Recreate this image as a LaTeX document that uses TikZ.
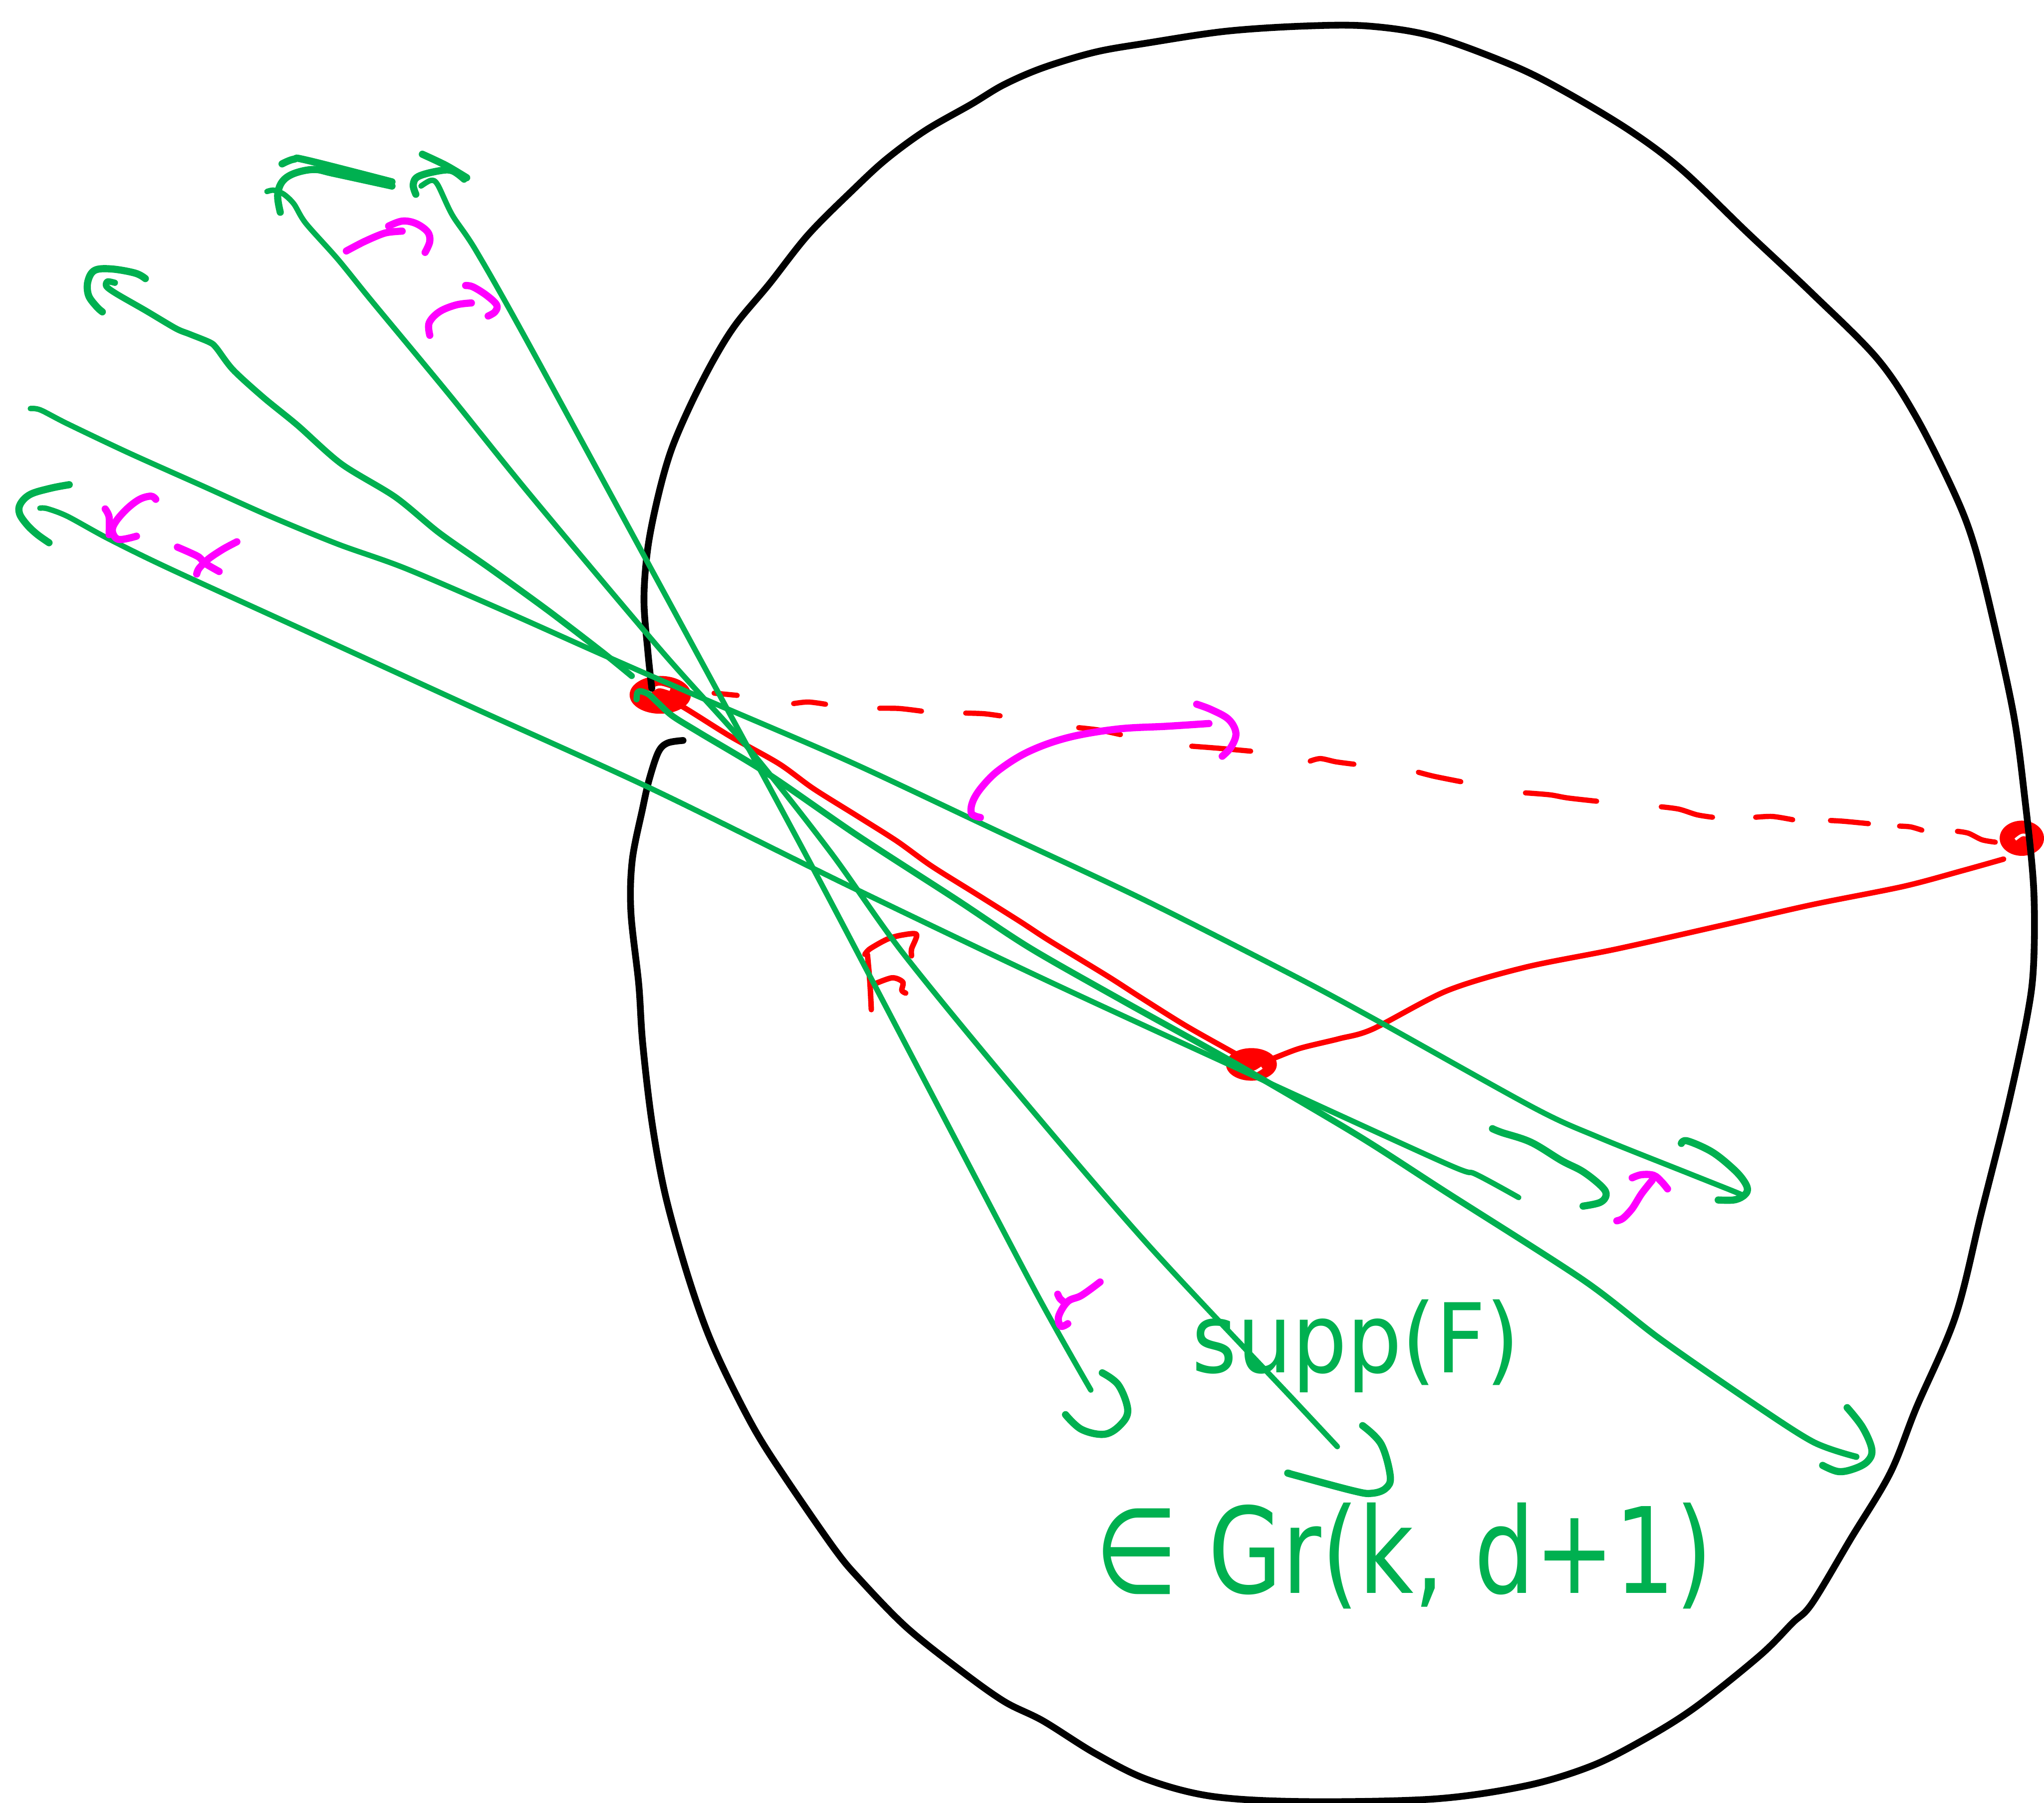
\documentclass[tikz,border=0pt]{standalone}
\usepackage{fontspec}
\newfontfamily\handfont{DejaVu Sans}
\definecolor{gr}{HTML}{00B050}
\definecolor{rd}{HTML}{FF0000}
\definecolor{mg}{HTML}{FF00FF}
\tikzset{
  outline/.style={draw=black, line width=0.52mm, line cap=round, line join=round},
  gline/.style={draw=gr, line width=0.42mm, line cap=round, line join=round},
  gthick/.style={draw=gr, line width=0.48mm, line cap=round, line join=round},
  ghook/.style={draw=gr, line width=0.55mm, line cap=round, line join=round},
  rline/.style={draw=rd, line width=0.42mm, line cap=round, line join=round},
  rdash/.style={draw=rd, line width=0.4mm, line cap=round},
  rdot/.style={fill=rd, draw=rd, line width=0.3mm},
  mline/.style={draw=mg, line width=0.55mm, line cap=round, line join=round},
  txt/.style={text=gr, inner sep=0pt, font=\handfont}
}
\begin{document}
\begin{tikzpicture}[x=0.1mm, y=-0.1mm]
\useasboundingbox (0,0) rectangle (1568,1383);

% ---------- red ----------
\fill[rdot] (506.5,533) ellipse (22 and 13);
\fill[rdot] (960,816.5) ellipse (18 and 11);
\fill[rdot] (1551,643) ellipse (15.5 and 12);
\draw[white, line width=0.2mm] (498,531) .. controls (505,526) .. (514,529);
\draw[white, line width=0.2mm] (955,821) .. controls (962,823) .. (968,819);
\draw[white, line width=0.2mm] (1546,644) .. controls (1551,640) .. (1556,641);

\draw[rline] plot[smooth, tension=0.5] coordinates {(505,534)(522.1,541.2)(559.8,564.6)(597.5,585.8)(623.9,604.9)(657.8,626.1)(688,645.2)(714.4,664.2)(748.3,685.4)(782.2,706.7)(804.9,721.5)(850.1,749.1)(876.5,766.1)(910.4,787.3)(948.1,808.5)(960,815)};
\draw[rline] plot[smooth, tension=0.5] coordinates {(966,814)(974.5,812.7)(997.1,804.2)(1027.3,796.8)(1053,789.4)(1110,760)(1170,742)(1240,728)(1320,710)(1390,694)(1460,680)(1505,668)(1537,659)};

% dashed chord
\draw[rdash] (547.8,531.7) -- (565.5,533.4);
\draw[rdash] plot[smooth] coordinates {(608.8,539.7)(620,538.5)(633.3,540.2)};
\draw[rdash] plot[smooth] coordinates {(674.8,543.3)(690,543.5)(706.9,545.5)};
\draw[rdash] plot[smooth] coordinates {(740.8,547)(755,547.5)(767.2,549.1)};
\draw[rdash] plot[smooth] coordinates {(827.5,558.2)(843,560)(859.5,563.5)};
\draw[rdash] plot[smooth] coordinates {(914.2,572.4)(935,574)(959.4,576.2)};
\draw[rdash] plot[smooth] coordinates {(1005.1,583.8)(1013,581.9)(1024.9,584.4)(1038.6,586.2)};
\draw[rdash] plot[smooth] coordinates {(1088.1,592.4)(1100.1,595.5)(1120.6,599.6)};
\draw[rdash] plot[smooth] coordinates {(1170.2,608.2)(1189,609.7)(1202.6,612.1)(1224.8,614.6)};
\draw[rdash] plot[smooth] coordinates {(1274.4,618.9)(1288,620.7)(1301.7,625)(1313.7,626.9)};
\draw[rdash] plot[smooth] coordinates {(1346.8,626.9)(1359.8,626.3)(1375.2,628.8)};
\draw[rdash] plot[smooth] coordinates {(1404.2,629.4)(1414.5,630)(1433.3,631.8)};
\draw[rdash] plot[smooth] coordinates {(1457.2,633.7)(1465.7,634.3)(1474.3,636.8)};
\draw[rdash] plot[smooth] coordinates {(1501.6,637.7)(1510.1,639.2)(1520.4,644.2)(1530.6,646)};

% red F
\draw[rline] plot[smooth] coordinates {(668.4,774.5)(667.3,753.3)(665.4,732.1)};
\draw[rline] plot[smooth, tension=0.5] coordinates {(663.5,732.1)(667.3,727.9)(680.5,720.5)(691.8,717.3)(703.1,716.8)(699.3,727.9)(699.3,733.2)};
\draw[rline] plot[smooth, tension=0.5] coordinates {(669.2,755.5)(684.2,750.1)(692.5,753.3)(691.8,759.7)(694.8,761.8)};

% ---------- black outline ----------
\draw[outline] plot[smooth, tension=0.55] coordinates {
(524,568)(512,570)(505,577)(498,598)(493,620)(485,660)(484,700)(490,755)(493,800)(500,860)(510,915)(525,970)(540,1015)(555,1050)(578,1095)(600,1130)(640,1188)(660,1212)(695,1248)(735,1280)(770,1305)(800,1320)(840,1345)(880,1365)(930,1378)(1000,1382)(1100,1380)(1170,1370)(1220,1355)(1260,1335)(1300,1310)(1350,1270)(1375,1245)(1390,1230)(1420,1180)(1450,1130)(1470,1080)(1500,1010)(1520,930)(1540,850)(1555,780)(1560,740)(1560,680)(1553,610)(1545,550)(1530,480)(1515,420)(1500,380)(1470,320)(1440,275)(1390,225)(1340,178)(1290,130)(1250,100)(1200,70)(1160,50)(1100,28)(1050,20)(1000,20)(940,24)(880,33)(840,40)(800,52)(770,65)(745,80)(710,100)(680,122)(655,145)(620,180)(590,218)(565,248)(548,275)(530,310)(515,345)(505,380)(497,420)(494,460)(497,500)(500,528)};

% ---------- green lines ----------
% G1
\draw[gline] plot[smooth, tension=0.5] coordinates {(323,142.7)(330.5,138.4)(335.7,141.6)(347,165)(365,192)(406,264.6)(533.4,498.8)(623.9,666.4)(710.6,831.4)(794.4,990.9)(836.8,1066.3)};
\draw[ghook] plot[smooth] coordinates {(324,118.3)(342,126.8)(358,136.3)};
\draw[ghook] plot[smooth, tension=0.6] coordinates {(319,149)(317,141.6)(321,135.3)(337,131)(347,131)(356,137.4)};
\draw[ghook] plot[smooth, tension=0.6] coordinates {(845.6,1053.1)(858,1062.5)(865.1,1081.4)(859.8,1092.7)(847.4,1100.2)(829.7,1096.5)(817.4,1085.2)};
% G2
\draw[gline] plot[smooth, tension=0.5] coordinates {(204.8,146.9)(210,145.9)(217.7,149)(225.5,156.5)(234.6,171.3)(259.2,198.9)(285,230.7)(344.7,302.8)(406.4,379.2)(507,498.8)(575,575)(637.1,653.6)(691.8,730)(774.7,831.4)(879.2,953.2)(992.3,1073.8)(1025.9,1109.7)};
\draw[ghook] plot[smooth, tension=0.6] coordinates {(215,162.8)(213,150)(216.4,139.5)(225.5,133.1)(241,130)(256.6,133.1)(300.7,142.7)};
\draw[ghook] plot[smooth, tension=0.6] coordinates {(216.4,125.7)(225.5,122.1)(235.9,123)(300.7,139.5)};
\draw[ghook] plot[smooth, tension=0.6] coordinates {(1045.3,1093.6)(1059.5,1107.8)(1066.5,1132.3)(1063,1141.7)(1052.4,1145.5)(1038.2,1143.6)(992.3,1131.3)(989.5,1130.4)};
% G3
\draw[gthick] plot[smooth, tension=0.5] coordinates {(88.1,216.9)(82.4,215.9)(81.6,219.7)(89.4,225.4)(111.5,238.1)(134.8,251.9)(145.2,256.2)(160.7,262.5)(165.9,266.8)(178.8,283.7)(202.2,305)(228.1,326.1)(261.8,355.8)(303.3,381.3)(337,408.8)(375.8,436)(420,468)(461.8,500)(484.6,518.5)};
\draw[ghook] plot[smooth, tension=0.6] coordinates {(111.5,213.7)(103.7,209.5)(85.5,206.3)(72.6,207.4)(67.4,215.9)(67.9,226.5)(73.9,235)(78.5,239.2)};
\draw[gthick] plot[smooth, tension=0.5] coordinates {(488.3,536.4)(488.9,531.4)(491.4,530.2)(497.6,532.6)(505,539.4)(516,549.3)(537.2,562.4)(590,594.2)(657.8,640.9)(733.2,689.7)(789.8,727)(860,767)(944.4,814)(1040,870)(1108.4,913.9)(1214.4,981.8)(1273.3,1027)(1344,1076)(1391.1,1106.2)(1424,1117.5)};
\draw[ghook] plot[smooth, tension=0.6] coordinates {(1417,1079.8)(1428.8,1094.9)(1435.9,1111.8)(1432.4,1121.2)(1421.7,1126.9)(1410,1128.8)(1398.2,1124.1)};
% G4
\draw[gline] plot[smooth, tension=0.5] coordinates {(23.3,313.4)(31.1,314.5)(51.8,325.1)(98.5,347.3)(155.5,372.8)(207.4,396.1)(259.2,417.4)(311,436)(390,470)(461.8,502)(537.2,534.9)(650.3,583.6)(763.4,636.7)(876.5,689.7)(989.6,747)(1053,781)(1176.7,849.8)(1226.2,872.4)(1296.9,900.7)(1332.2,914.8)(1338.1,917.7)};
\draw[ghook] plot[smooth, tension=0.6] coordinates {(1289.8,877.1)(1294.5,875.2)(1313.4,883.7)(1329.9,896.9)(1338.1,906.4)(1340.5,913)(1337,917.7)(1329.9,920.5)(1318.1,920.5)};
% G5
\draw[gline] plot[smooth, tension=0.5] coordinates {(30.6,389.8)(36.3,390.2)(51.8,396.1)(82.9,413.1)(129.6,436)(240,486.5)(360,541.5)(499.5,604.9)(650.3,679.1)(801.1,751.2)(948.1,819)(1108.4,892.2)(1132,900.7)(1165,918.6)};
\draw[ghook] plot[smooth, tension=0.6] coordinates {(53.1,371.8)(38.9,374.5)(23.3,379.2)(15.6,386.6)(15,394)(20.7,402.5)(28.5,409.9)(37.6,416.3)};
\draw[ghook] plot[smooth, tension=0.6] coordinates {(1144.9,865.8)(1152,868.7)(1174.4,876.2)(1197.9,890.3)(1214.4,898.8)(1228.6,910.1)(1232.1,916.7)(1227.4,922.4)(1214.4,925.2)};

% ---------- green text ----------
\node[txt, anchor=base] (supp) at (1040,1053) {\fontsize{21}{25}\selectfont\scalebox{0.9}[1]{supp(F)}};
\node[txt, anchor=base] (grass) at (1077,1222) {\fontsize{26}{30}\selectfont\scalebox{0.8}[1]{∈ Gr(k, d+1)}};

% ---------- magenta ----------
\draw[mline] plot[smooth] coordinates {(265.7,192.5)(279.9,185.1)(295.5,178.7)(308.5,177.3)};
\draw[mline] plot[smooth, tension=0.6] coordinates {(298.1,173.4)(308.5,169.6)(318.8,171.3)(327.9,177.7)(329.7,185.1)(326.1,193.6)};
\draw[mline] plot[smooth, tension=0.6] coordinates {(329.7,257.2)(329.2,247.7)(337,239.2)(349.9,233.9)(361.6,232.4)};
\draw[mline] plot[smooth, tension=0.6] coordinates {(357.2,219)(362.9,220.1)(373.2,226.5)(381,233.9)(379.7,239.2)(374.5,242.4)};
\draw[mline] plot[smooth, tension=0.6] coordinates {(119.5,383)(115.8,380.6)(107.1,383)(97.3,390.4)(88.7,400.3)(86.2,407.6)(91.1,413.8)(104.7,411.3)};
\draw[mline] plot[smooth] coordinates {(80.7,390.4)(83.7,396.6)(83.7,410.1)};
\draw[mline] plot[smooth] coordinates {(136.1,419.7)(145.3,423.7)(152.7,427.4)(157.6,432.3)(168.1,438.4)};
\draw[mline] plot[smooth] coordinates {(181.7,415.6)(171.2,421.2)(160.1,428.6)(152.7,436)(150.9,440.3)};
\draw[mline] plot[smooth, tension=0.6] coordinates {(752.1,627.1)(745.3,624)(746.4,614.4)(754,602.7)(767.2,590)(789.8,576.2)(820,565.6)(857.7,559.2)(895.4,557.1)(927.4,555)};
\draw[mline] plot[smooth, tension=0.6] coordinates {(918,540.2)(929.3,544.4)(942.5,551.8)(948.1,562.4)(944.4,573)(937.6,580.1)};
\draw[mline] plot[smooth, tension=0.6] coordinates {(843.9,983.4)(829.7,993.7)(819.1,998.4)(812.1,1009.8)(813.8,1017.3)(819.1,1015.4)};
\draw[mline] plot[smooth] coordinates {(811.4,992.8)(813,996)(815.6,998.4)};
\draw[mline] plot[smooth] coordinates {(1240.3,936.5)(1245,934.6)(1252.1,927.1)(1259.2,915.8)(1267.4,905.4)};
\draw[mline] plot[smooth, tension=0.6] coordinates {(1252.1,903.5)(1259.2,901.1)(1268.6,901.6)(1274.5,906.4)(1279.2,912)};
\end{tikzpicture}
\end{document}
